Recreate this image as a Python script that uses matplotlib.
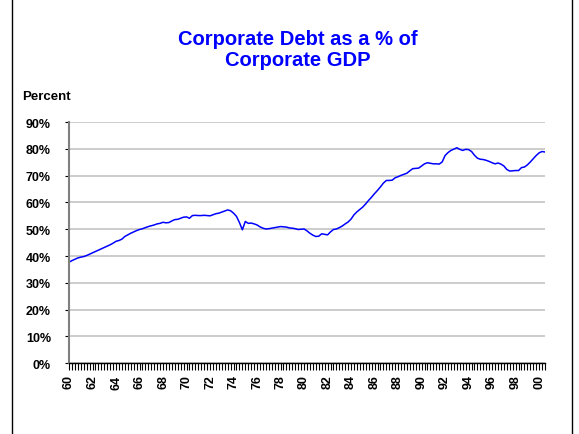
import matplotlib
matplotlib.use("Agg")
import matplotlib.pyplot as plt
from matplotlib.ticker import FixedLocator, FuncFormatter
from matplotlib.lines import Line2D

title = "Corporate Debt as a % of\nCorporate GDP"
ylabel = "Percent"
year_labels = ["60", "62", "64", "66", "68", "70", "72", "74", "76", "78", "80",
               "82", "84", "86", "88", "90", "92", "94", "96", "98", "00"]
yticks = [0, 10, 20, 30, 40, 50, 60, 70, 80, 90]

# Quarterly values, 1960Q1 .. 2000Q3 (percent)
debt_pct = [
    37.7, 38.3, 38.8, 39.3,   # 1960
    39.6, 39.8, 40.2, 40.7,   # 1961
    41.2, 41.7, 42.2, 42.7,   # 1962
    43.2, 43.7, 44.2, 44.8,   # 1963
    45.5, 45.8, 46.3, 47.3,   # 1964
    47.9, 48.5, 49.0, 49.5,   # 1965
    49.9, 50.2, 50.6, 51.0,   # 1966
    51.3, 51.6, 52.0, 52.2,   # 1967
    52.6, 52.4, 52.5, 53.1,   # 1968
    53.6, 53.7, 54.1, 54.5,   # 1969
    54.6, 54.1, 55.1, 55.2,   # 1970
    55.1, 55.1, 55.2, 55.1,   # 1971
    55.0, 55.4, 55.8, 56.0,   # 1972
    56.4, 56.8, 57.2, 56.9,   # 1973
    56.0, 54.8, 52.5, 49.8,   # 1974
    52.9, 52.2, 52.3, 52.0,   # 1975
    51.6, 50.9, 50.4, 50.1,   # 1976
    50.2, 50.4, 50.6, 50.8,   # 1977
    51.0, 50.9, 50.8, 50.5,   # 1978
    50.4, 50.2, 49.9, 50.0,   # 1979
    50.1, 49.4, 48.5, 47.8,   # 1980
    47.3, 47.4, 48.3, 48.1,   # 1981
    47.9, 49.0, 49.9, 50.1,   # 1982
    50.6, 51.2, 52.0, 52.7,   # 1983
    53.8, 55.4, 56.5, 57.4,   # 1984
    58.3, 59.5, 60.8, 62.0,   # 1985
    63.3, 64.5, 65.8, 67.2,   # 1986
    68.2, 68.2, 68.3, 69.2,   # 1987
    69.6, 70.1, 70.5, 70.9,   # 1988
    71.8, 72.6, 72.7, 72.8,   # 1989
    73.6, 74.4, 74.8, 74.6,   # 1990
    74.4, 74.4, 74.3, 75.1,   # 1991
    77.5, 78.6, 79.4, 79.9,   # 1992
    80.4, 79.8, 79.4, 79.8,   # 1993
    79.7, 79.0, 77.6, 76.5,   # 1994
    76.1, 76.0, 75.7, 75.3,   # 1995
    74.8, 74.4, 74.7, 74.3,   # 1996
    73.6, 72.3, 71.7, 71.8,   # 1997
    71.9, 71.9, 73.0, 73.2,   # 1998
    74.0, 75.1, 76.3, 77.5,   # 1999
    78.5, 79.0, 78.8,         # 2000
]

FONT = ["Liberation Sans Narrow", "Liberation Sans", "DejaVu Sans"]
plt.rcParams["font.family"] = FONT

fig = plt.figure(figsize=(5.79, 4.35), dpi=100)
ax = fig.add_axes([69/579, 1 - 364.3/435, (545 - 69)/579, (364.3 - 123)/435])

x = list(range(len(debt_pct)))
ax.plot(x, debt_pct, color="#0000FF", linewidth=1.1)

ax.set_xlim(0, len(debt_pct) - 1)
ax.set_ylim(0, 90)
ax.set_yticks(yticks)
ax.yaxis.set_major_formatter(FuncFormatter(lambda v, p: f"{int(v)}%"))
ax.grid(axis="y", color="#c8c8c8", linewidth=1.3)
ax.set_axisbelow(True)

major = [8 * k for k in range(len(year_labels))]
ax.xaxis.set_major_locator(FixedLocator(major))
ax.set_xticklabels(year_labels, rotation=90, fontsize=9, fontweight="bold")
ax.xaxis.set_minor_locator(FixedLocator(list(range(len(debt_pct)))))
ax.tick_params(axis="x", which="both", direction="out", length=5, width=0.8, color="black", pad=3)
ax.tick_params(axis="y", direction="out", length=3, width=0.8, color="black", pad=10,
               labelsize=9)
for lab in ax.get_yticklabels():
    lab.set_fontweight("bold")

for s in ("top", "right"):
    ax.spines[s].set_visible(False)
ax.spines["left"].set_color("#808080")
ax.spines["left"].set_linewidth(1.5)
ax.spines["bottom"].set_color("black")
ax.spines["bottom"].set_linewidth(1.0)

fig.text(298/579, 1 - 50/435, title, ha="center", va="center", color="#0000FF",
         fontsize=14.5, fontweight="bold", linespacing=1.1)
fig.text(22/579, 1 - 97/435, ylabel, ha="left", va="center", fontsize=9.5,
         fontweight="bold", color="black")

fig.add_artist(Line2D([12/579, 12/579], [0, 1], transform=fig.transFigure,
                      color="black", linewidth=1.0))
fig.add_artist(Line2D([572/579, 572/579], [0, 1], transform=fig.transFigure,
                      color="black", linewidth=1.0))

fig.savefig("out.png", dpi=100)
